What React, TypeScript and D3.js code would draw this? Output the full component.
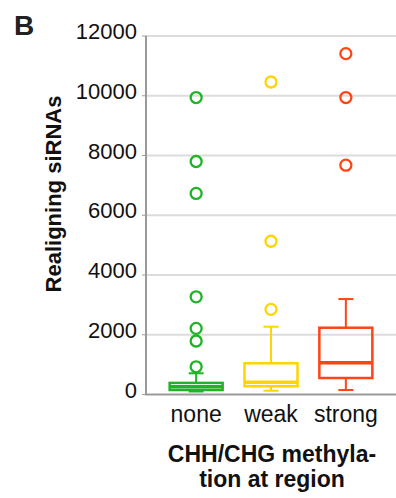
import React, { useEffect, useRef } from "react";
import * as d3 from "d3";

// box stats
const categories = ["none", "weak", "strong"];
const colors = ["#1fb426", "#ffd400", "#ff4515"];
const whiskerLow = [100, 127, 150];
const q1 = [150, 275, 552];
const median = [260, 408, 1064];
const q3 = [388, 1045, 2235];
const whiskerHigh = [710, 2270, 3195];
const outliers = [
    [9940, 7800, 6730, 3270, 2214, 1790, 928],
    [10460, 5130, 2850],
    [11410, 9940, 7676],
];
const yTicks = [0, 2000, 4000, 6000, 8000, 10000, 12000];

const W = 396;
const H = 498;

function App() {
    const svgRef = useRef(null);

    useEffect(() => {
        const svg = d3.select(svgRef.current);
        svg.selectAll("*").remove();

        const left = 146, right = 396, top = 36, bottom = 394.5;

        const y = d3.scaleLinear().domain([0, 12000]).range([bottom, top]);
        const x = d3.scalePoint().domain(categories).range([left, right]).padding(0.67);

        // gridlines
        svg.append("g")
            .selectAll("line")
            .data(yTicks.filter((t) => t > 0))
            .join("line")
            .attr("x1", left)
            .attr("x2", right)
            .attr("y1", (d) => y(d))
            .attr("y2", (d) => y(d))
            .attr("stroke", "#dcdcdc")
            .attr("stroke-width", 2);

        // axes lines
        svg.append("line")
            .attr("x1", left).attr("x2", left)
            .attr("y1", top).attr("y2", bottom)
            .attr("stroke", "#9a9a9a").attr("stroke-width", 2);
        svg.append("line")
            .attr("x1", left - 1).attr("x2", right)
            .attr("y1", bottom).attr("y2", bottom)
            .attr("stroke", "#9a9a9a").attr("stroke-width", 2);

        // y ticks + labels
        const yt = svg.append("g");
        yt.selectAll("line")
            .data(yTicks)
            .join("line")
            .attr("x1", left - 4).attr("x2", left)
            .attr("y1", (d) => y(d)).attr("y2", (d) => y(d))
            .attr("stroke", "#9a9a9a").attr("stroke-width", 1);
        yt.selectAll("text")
            .data(yTicks)
            .join("text")
            .attr("x", 137)
            .attr("y", (d) => y(d) + 3)
            .attr("text-anchor", "end")
            .attr("font-family", "Liberation Sans, Arial, sans-serif")
            .attr("font-size", 22)
            .attr("fill", "#111")
            .text((d) => d);

        // boxes
        const boxW = 53, capW = 15;
        categories.forEach((c, i) => {
            const cx = x(c);
            const col = colors[i];
            const g = svg.append("g").attr("stroke", col).attr("fill", "none");
            g.append("line")
                .attr("x1", cx).attr("x2", cx)
                .attr("y1", y(whiskerHigh[i])).attr("y2", y(q3[i]))
                .attr("stroke-width", 2);
            g.append("line")
                .attr("x1", cx).attr("x2", cx)
                .attr("y1", y(whiskerLow[i])).attr("y2", y(q1[i]))
                .attr("stroke-width", 2);
            [whiskerHigh[i], whiskerLow[i]].forEach((v) => {
                g.append("line")
                    .attr("x1", cx - capW / 2).attr("x2", cx + capW / 2)
                    .attr("y1", y(v)).attr("y2", y(v))
                    .attr("stroke-width", 2);
            });
            g.append("rect")
                .attr("x", cx - boxW / 2)
                .attr("width", boxW)
                .attr("y", y(q3[i]))
                .attr("height", y(q1[i]) - y(q3[i]))
                .attr("stroke-width", 2.5);
            g.append("line")
                .attr("x1", cx - boxW / 2).attr("x2", cx + boxW / 2)
                .attr("y1", y(median[i])).attr("y2", y(median[i]))
                .attr("stroke-width", 3.5);
            g.selectAll("circle")
                .data(outliers[i])
                .join("circle")
                .attr("cx", cx)
                .attr("cy", (d) => y(d))
                .attr("r", 5.5)
                .attr("stroke-width", 2.3);
        });

        // category labels
        svg.append("g")
            .selectAll("text")
            .data(categories)
            .join("text")
            .attr("x", (d) => x(d))
            .attr("y", 422)
            .attr("text-anchor", "middle")
            .attr("font-family", "Liberation Sans, Arial, sans-serif")
            .attr("font-size", 23)
            .attr("fill", "#111")
            .text((d) => d);

        // x title, two lines
        const xtAttrs = (t) => t
            .attr("x", 272)
            .attr("text-anchor", "middle")
            .attr("font-family", "Liberation Sans, Arial, sans-serif")
            .attr("font-weight", "bold")
            .attr("font-size", 23)
            .attr("fill", "#111");
        xtAttrs(svg.append("text")).attr("y", 462).text("CHH/CHG methyla-");
        xtAttrs(svg.append("text")).attr("y", 487).text("tion at region");

        // y title
        svg.append("text")
            .attr("transform", "translate(61,194) rotate(-90)")
            .attr("text-anchor", "middle")
            .attr("font-family", "Liberation Sans, Arial, sans-serif")
            .attr("font-weight", "bold")
            .attr("font-size", 22)
            .attr("fill", "#111")
            .text("Realigning siRNAs");

        // panel letter
        svg.append("text")
            .attr("x", 14)
            .attr("y", 35)
            .attr("font-family", "Liberation Sans, Arial, sans-serif")
            .attr("font-weight", "bold")
            .attr("font-size", 28)
            .attr("fill", "#222")
            .text("B");
    }, []);

    return (
        <svg
            ref={svgRef}
            width={W}
            height={H}
            style={{ position: "absolute", left: 0, top: 0, background: "#fff" }}
        />
    );
}

export default App;
